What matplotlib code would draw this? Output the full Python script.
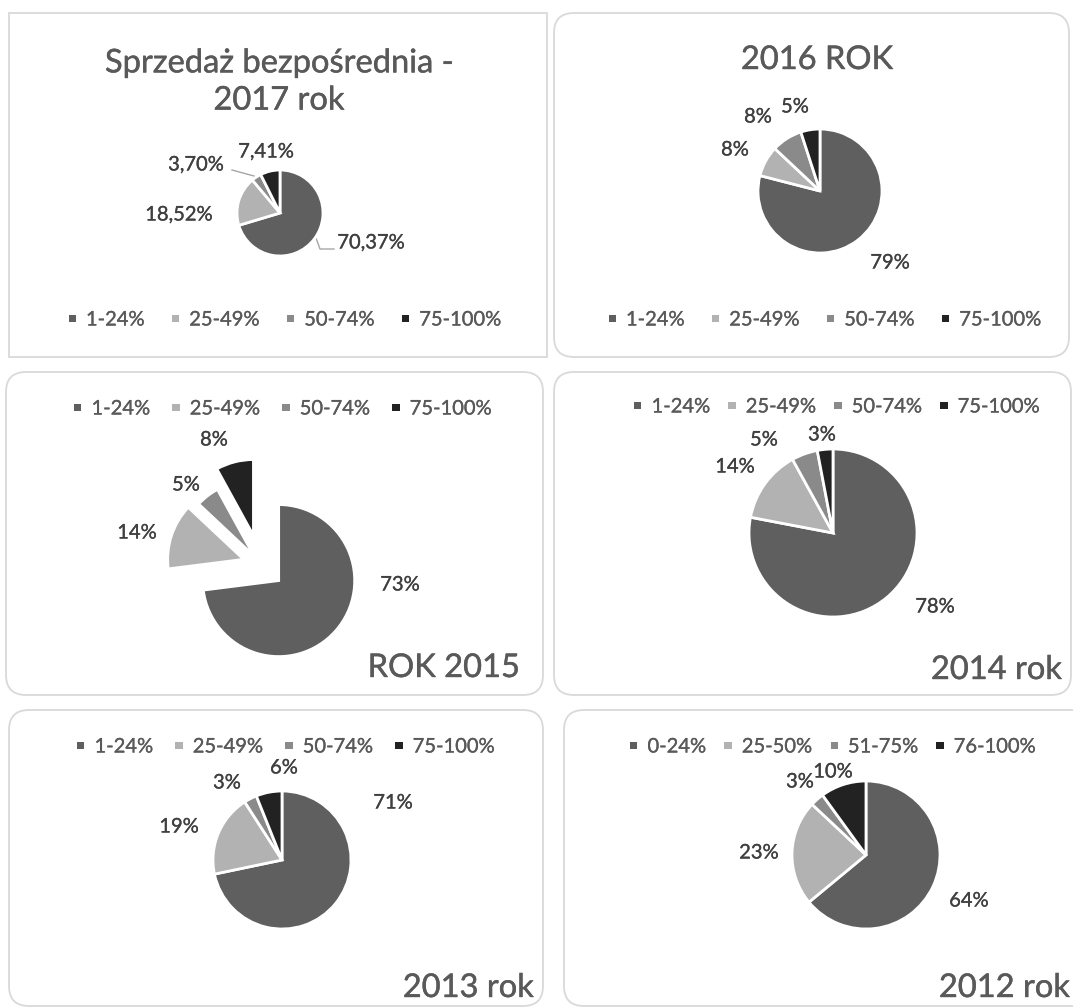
import matplotlib
matplotlib.use('Agg')
import matplotlib.pyplot as plt
from matplotlib.patches import FancyBboxPatch, Patch
import matplotlib.patheffects as pe

W, H = 1073, 1008
plt.rcParams['font.family'] = ['Lato', 'DejaVu Sans']

# kolory wycinkow (jak w Excelu, monochromatyczne)
colors = ['#5f5f5f', '#b2b2b2', '#8a8a8a', '#222222']
border_col = '#d9d9d9'
text_col = '#595959'
label_col = '#404040'

legend_std = ['1-24%', '25-49%', '50-74%', '75-100%']
legend_2012 = ['0-24%', '25-50%', '51-75%', '76-100%']

values_2017 = [70.37, 18.52, 3.70, 7.41]
values_2016 = [79, 8, 8, 5]
values_2015 = [73, 14, 5, 8]
values_2014 = [78, 14, 5, 3]
values_2013 = [71, 19, 3, 6]
values_2012 = [64, 23, 3, 10]

explode_2015 = [0.31, 0.24, 0.15, 0.40]

# uklad paneli w pikselach (od lewego gornego rogu)
panels = [
    dict(vals=values_2017, names=legend_std, box=(9, 13, 547, 357), rounded=False,
         center=(280, 213), r=43, explode=None, dec=2,
         lab=[(371, 243), (179, 215), (196, 165), (266, 152)],
         leg=(285, 320), cs=1.35,
         title='Sprzedaż bezpośrednia -\n2017 rok', tpos=(279, 82), ha='center'),
    dict(vals=values_2016, names=legend_std, box=(554, 13, 1069, 357), rounded=True,
         center=(820, 191), r=62, explode=None, dec=0,
         lab=[(890, 263), (735, 150), (758, 117), (795, 107)],
         leg=(825, 320), cs=1.35,
         title='2016 ROK', tpos=(817, 60), ha='center'),
    dict(vals=values_2015, names=legend_std, box=(6, 372, 543, 695), rounded=True,
         center=(261, 565), r=76, explode=explode_2015, dec=0,
         lab=[(400, 585), (137, 533), (186, 485), (214, 440)],
         leg=(283, 409), cs=1.1,
         title='ROK 2015', tpos=(520, 668), ha='right'),
    dict(vals=values_2014, names=legend_std, box=(554, 372, 1071, 695), rounded=True,
         center=(833, 533), r=84, explode=None, dec=0,
         lab=[(935, 607), (735, 467), (764, 440), (822, 435)],
         leg=(837, 407), cs=0.9,
         title='2014 rok', tpos=(1062, 670), ha='right'),
    dict(vals=values_2013, names=legend_std, box=(9, 710, 543, 1006), rounded=True,
         center=(282, 860), r=69, explode=None, dec=0,
         lab=[(393, 803), (179, 827), (227, 783), (284, 768)],
         leg=(286, 747), cs=1.1,
         title='2013 rok', tpos=(534, 988), ha='right'),
    dict(vals=values_2012, names=legend_2012, box=(564, 710, 1095, 1006), rounded=True,
         center=(866, 855), r=74, explode=None, dec=0,
         lab=[(969, 901), (759, 853), (800, 782), (833, 772)],
         leg=(833, 747), cs=0.9,
         title='2012 rok', tpos=(1070, 988), ha='right'),
]

fig = plt.figure(figsize=(W / 100, H / 100), dpi=100)
bg = fig.add_axes([0, 0, 1, 1])
bg.set_xlim(0, W)
bg.set_ylim(H, 0)
bg.axis('off')

for p in panels:
    x0, y0, x1, y1 = p['box']
    style = 'round,pad=0,rounding_size=20' if p['rounded'] else 'square,pad=0'
    bg.add_patch(FancyBboxPatch((x0, y0), x1 - x0, y1 - y0, boxstyle=style,
                                facecolor='white', edgecolor=border_col, linewidth=1.3))

    cx, cy = p['center']
    s = 1.6 * p['r']
    ax = fig.add_axes([(cx - s) / W, (H - cy - s) / H, 2 * s / W, 2 * s / H])
    ax.pie(p['vals'], colors=colors, startangle=90, counterclock=False,
           explode=p['explode'], radius=1,
           wedgeprops=dict(edgecolor='white', linewidth=2))
    ax.set_xlim(-1.6, 1.6)
    ax.set_ylim(-1.6, 1.6)
    ax.axis('off')

    for v, (lx, ly) in zip(p['vals'], p['lab']):
        txt = f"{v:.{p['dec']}f}%".replace('.', ',')
        bg.text(lx, ly, txt, ha='center', va='center', fontsize=14.5, color=label_col,
                path_effects=[pe.withStroke(linewidth=0.2, foreground=label_col)])

    handles = [Patch(facecolor=c, edgecolor='none') for c in colors]
    leg = fig.legend(handles, p['names'], loc='center', bbox_to_anchor=p['leg'],
                     bbox_transform=bg.transData, ncol=4, frameon=False, fontsize=14.5,
                     handlelength=0.36, handleheight=0.17, handletextpad=0.5,
                     columnspacing=p['cs'], labelcolor=text_col, borderpad=0)
    for t in leg.get_texts():
        t.set_path_effects([pe.withStroke(linewidth=0.2, foreground=text_col)])

    tx, ty = p['tpos']
    bg.text(tx, ty, p['title'], ha=p['ha'], va='center', fontsize=23.5,
            color=text_col, linespacing=1.3, multialignment='center',
            path_effects=[pe.withStroke(linewidth=0.3, foreground=text_col)])

# linie odniesienia dla etykiet 2017
bg.plot([232, 254], [170, 176], color='#a6a6a6', lw=1)
bg.plot([316, 320, 334], [238, 249, 249], color='#a6a6a6', lw=1)

fig.savefig('out.png', dpi=100)
